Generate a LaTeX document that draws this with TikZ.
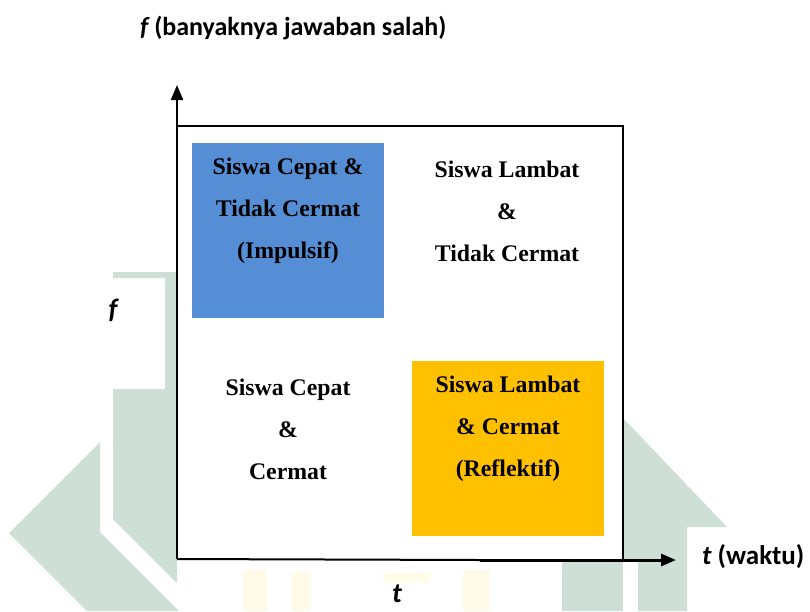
\documentclass[tikz,border=0pt]{standalone}
\usepackage{fontspec}
\setmainfont{Liberation Serif}
\newfontfamily\labelfont{Carlito}
\usetikzlibrary{arrows.meta}

\definecolor{impblue}{RGB}{85,142,213}
\definecolor{refamber}{RGB}{255,192,0}
\definecolor{wmgreen}{RGB}{206,224,214}
\definecolor{wmyellow}{RGB}{255,251,232}

\begin{document}
\begin{tikzpicture}[x=1pt,y=-1pt,
  quadtext/.style={font=\bfseries\fontsize{23.8}{42}\selectfont, align=center, inner sep=0pt},
  quadfill/.style={minimum width=192pt, minimum height=175pt, inner sep=0pt, draw=none},
  axislabel/.style={font=\labelfont\bfseries\fontsize{26}{30}\selectfont, inner sep=0pt},
  axisline/.style={line width=2pt},
  axistip/.style={-{Triangle[length=15pt,width=12pt]}},
  frame/.style={line width=2pt, line cap=rect}
]
\useasboundingbox (0,0) rectangle (810,611);

% faint background emblem
\fill[wmgreen] (9,533) -- (100,442) -- (100,532) -- (179,611) -- (87,611) -- cycle;
\fill[wmgreen] (113,272) -- (177,272) -- (177,583) -- (113,519) -- (113,389)
               -- (165,389) -- (165,278) -- (113,278) -- cycle;
\fill[wmgreen] (623,418) -- (727,527) -- (687,527) -- (687,611) -- (638,611)
               -- (638,559) -- (623,559) -- cycle;
\fill[wmgreen] (562,559) rectangle (623,611);
\fill[wmyellow] (243,570) rectangle (267,611);
\fill[wmyellow] (292,572) rectangle (310,611);
\fill[wmyellow] (383,573) rectangle (430,583);
\fill[wmyellow] (463,570) rectangle (490,611);

% axes origin and ends
\coordinate (origin) at (177,559);
\coordinate (ytip) at (177,85);
\coordinate (xmid) at (480,560);
\coordinate (xtip) at (676,560);
\coordinate (boxtl) at (177,126);
\coordinate (boxtr) at (623,126);
\coordinate (boxbr) at (623,559);

% quadrant frame
\fill[white] (boxtl) rectangle (boxbr);
\draw[frame] (boxtl) -- (boxtr) -- (boxbr);

% coloured quadrants
\node[quadfill, fill=impblue] (impbox) at (288,230.5) {};
\node[quadfill, fill=refamber] (refbox) at (508,448.5) {};

% quadrant texts
\node[quadtext] (impulsif) at (288,211) {Siswa Cepat \&\\Tidak Cermat\\(Impulsif)};
\node[quadtext] (lambattc) at (507,211) {Siswa Lambat\\\&\\Tidak Cermat};
\node[quadtext] (cepatc) at (288,429) {Siswa Cepat\\\&\\Cermat};
\node[quadtext] (reflektif) at (508,429) {Siswa Lambat\\\& Cermat\\(Reflektif)};

% axes
\draw[axisline, axistip] (origin) -- (ytip);
\draw[axisline] (origin) -- (xmid);
\draw[line width=3pt, axistip] (xmid) -- (xtip);

% axis labels
\node[axislabel, anchor=west] (ytitle) at (140,28) {\itshape f\upshape\ (banyaknya jawaban salah)};
\node[axislabel, anchor=center] (flabel) at (113,310) {\fontsize{28}{30}\selectfont\itshape f};
\node[axislabel, anchor=west, font=\labelfont\bfseries\fontsize{27}{30}\selectfont] (xtitle) at (702,557) {\itshape t\upshape\ (waktu)};
\node[axislabel, anchor=base] (tlabel) at (397,602) {\fontsize{28}{30}\selectfont\itshape t};
\end{tikzpicture}
\end{document}
